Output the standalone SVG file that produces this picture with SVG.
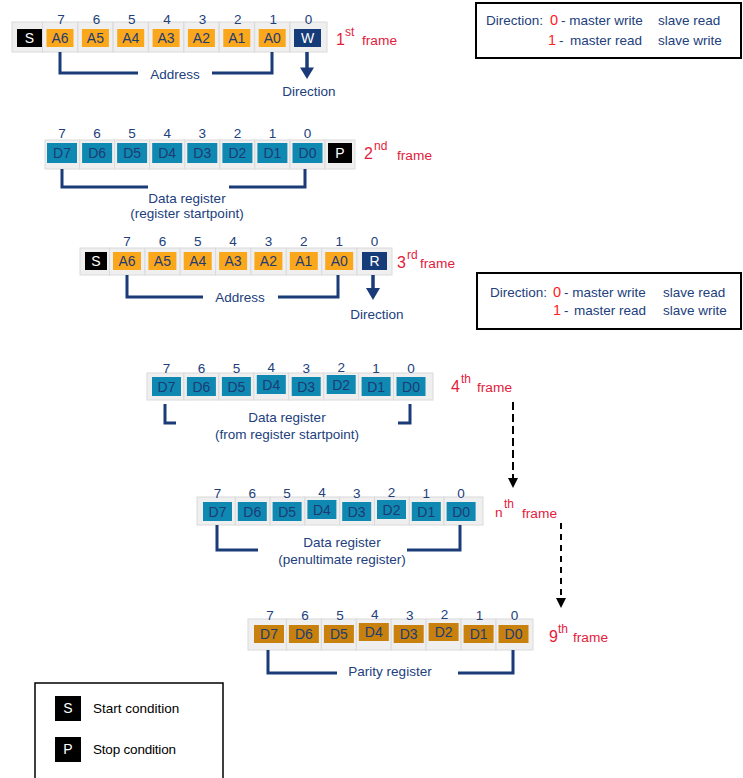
<svg xmlns="http://www.w3.org/2000/svg" width="743" height="778" viewBox="0 0 743 778">
<style>
text{font-family:"Liberation Sans",Arial,sans-serif;font-size:13.5px}
.cell{fill:#efefef;stroke:#dadada;stroke-width:1}
.a{fill:#fba71b}
.d{fill:#0f88b2}
.g{fill:#c8810c}
.k{fill:#000}
.n{fill:#153b78}
.bt{text-anchor:middle;fill:#1d3b73;font-size:14px}
.wt{text-anchor:middle;fill:#fff;font-size:14px}
.dg{text-anchor:middle;fill:#21407c;font-size:13.5px}
.lbl{fill:#21407c}
.mid{text-anchor:middle}
.red{fill:#e31b3c;font-size:16px}
.fr{fill:#e31b3c;font-size:13.7px}
.sup{fill:#e31b3c;font-size:12px}
.rr{fill:#ff2020;font-size:14.5px}
.br{fill:none;stroke:#1b3b78;stroke-width:3}
.dir{fill:none;stroke:#1b3b78;stroke-width:3.5}
.dash{fill:none;stroke:#000;stroke-width:2}
.box{fill:#fff;stroke:#000;stroke-width:2}
</style>

<g id="frame1">
  <rect class="cell" x="12" y="22" width="31" height="30"/>
  <rect class="cell" x="42.5" y="22" width="35" height="30"/>
  <rect class="cell" x="77.9" y="22" width="35" height="30"/>
  <rect class="cell" x="113.2" y="22" width="35" height="30"/>
  <rect class="cell" x="148.6" y="22" width="35" height="30"/>
  <rect class="cell" x="183.9" y="22" width="35" height="30"/>
  <rect class="cell" x="219.3" y="22" width="35" height="30"/>
  <rect class="cell" x="254.7" y="22" width="35" height="30"/>
  <rect class="cell" x="290" y="22" width="37" height="30"/>
  <rect class="k" x="17" y="29" width="25" height="18"/>
  <rect class="a" x="46.5" y="29" width="27" height="18"/>
  <rect class="a" x="81.9" y="29" width="27" height="18"/>
  <rect class="a" x="117.2" y="29" width="27" height="18"/>
  <rect class="a" x="152.6" y="29" width="27" height="18"/>
  <rect class="a" x="187.9" y="29" width="27" height="18"/>
  <rect class="a" x="223.3" y="29" width="27" height="18"/>
  <rect class="a" x="258.7" y="29" width="27" height="18"/>
  <rect class="n" x="294" y="29" width="27" height="18"/>
  <text class="wt" x="29.5" y="43">S</text>
  <text class="bt" x="60" y="43">A6</text>
  <text class="bt" x="95.4" y="43">A5</text>
  <text class="bt" x="130.7" y="43">A4</text>
  <text class="bt" x="166.1" y="43">A3</text>
  <text class="bt" x="201.4" y="43">A2</text>
  <text class="bt" x="236.8" y="43">A1</text>
  <text class="bt" x="272.2" y="43">A0</text>
  <text class="wt" x="307.5" y="43">W</text>
  <text class="dg" x="61" y="24">7</text>
  <text class="dg" x="96.4" y="24">6</text>
  <text class="dg" x="131.7" y="24">5</text>
  <text class="dg" x="167.1" y="24">4</text>
  <text class="dg" x="202.4" y="24">3</text>
  <text class="dg" x="237.8" y="24">2</text>
  <text class="dg" x="273.2" y="24">1</text>
  <text class="dg" x="308.5" y="24">0</text>
  <text class="red" x="336" y="45">1</text>
  <text class="sup" x="345" y="36">st</text>
  <text class="fr" x="362" y="45">frame</text>
  <text class="lbl mid" x="175" y="79">Address</text>
  <text class="lbl mid" x="309" y="96">Direction</text>
</g>

<g id="direction-legend-1">
  <rect class="box" x="476" y="3" width="265" height="55"/>
  <text class="lbl" x="486" y="25">Direction:</text>
  <text class="rr" x="550" y="25">0</text>
  <text class="lbl" x="561" y="25">- master write</text>
  <text class="lbl" x="658" y="25">slave read</text>
  <text class="rr" x="548" y="45">1</text>
  <text class="lbl" x="559" y="45">-</text>
  <text class="lbl" x="570" y="45">master read</text>
  <text class="lbl" x="658" y="45">slave write</text>
</g>

<g id="frame2">
  <rect class="cell" x="45" y="140" width="34.6" height="29"/>
  <rect class="cell" x="79.6" y="140" width="35" height="29"/>
  <rect class="cell" x="114.6" y="140" width="35" height="29"/>
  <rect class="cell" x="149.7" y="140" width="35" height="29"/>
  <rect class="cell" x="184.8" y="140" width="35" height="29"/>
  <rect class="cell" x="219.9" y="140" width="35" height="29"/>
  <rect class="cell" x="254.9" y="140" width="35" height="29"/>
  <rect class="cell" x="290" y="140" width="35" height="29"/>
  <rect class="cell" x="325" y="140" width="30" height="29"/>
  <rect class="d" x="47" y="143" width="30" height="20"/>
  <rect class="d" x="82.1" y="143" width="30" height="20"/>
  <rect class="d" x="117.1" y="143" width="30" height="20"/>
  <rect class="d" x="152.2" y="143" width="30" height="20"/>
  <rect class="d" x="187.3" y="143" width="30" height="20"/>
  <rect class="d" x="222.4" y="143" width="30" height="20"/>
  <rect class="d" x="257.4" y="143" width="30" height="20"/>
  <rect class="d" x="292.5" y="143" width="30" height="20"/>
  <rect class="k" x="328" y="143" width="24" height="20"/>
  <text class="bt" x="62" y="158">D7</text>
  <text class="bt" x="97.1" y="158">D6</text>
  <text class="bt" x="132.1" y="158">D5</text>
  <text class="bt" x="167.2" y="158">D4</text>
  <text class="bt" x="202.3" y="158">D3</text>
  <text class="bt" x="237.4" y="158">D2</text>
  <text class="bt" x="272.4" y="158">D1</text>
  <text class="bt" x="307.5" y="158">D0</text>
  <text class="wt" x="340" y="158">P</text>
  <text class="dg" x="62" y="138">7</text>
  <text class="dg" x="97.1" y="138">6</text>
  <text class="dg" x="132.1" y="138">5</text>
  <text class="dg" x="167.2" y="138">4</text>
  <text class="dg" x="202.3" y="138">3</text>
  <text class="dg" x="237.4" y="138">2</text>
  <text class="dg" x="272.4" y="138">1</text>
  <text class="dg" x="307.5" y="138">0</text>
  <text class="red" x="364" y="159">2</text>
  <text class="sup" x="374" y="150">nd</text>
  <text class="fr" x="397" y="160">frame</text>
  <text class="lbl mid" x="187" y="203">Data register</text>
  <text class="lbl mid" x="187" y="218">(register startpoint)</text>
</g>

<g id="frame3">
  <rect class="cell" x="80" y="248" width="30" height="27"/>
  <rect class="cell" x="109.5" y="248" width="35.4" height="27"/>
  <rect class="cell" x="144.9" y="248" width="35.3" height="27"/>
  <rect class="cell" x="180.2" y="248" width="35.4" height="27"/>
  <rect class="cell" x="215.6" y="248" width="35.3" height="27"/>
  <rect class="cell" x="250.9" y="248" width="35.4" height="27"/>
  <rect class="cell" x="286.3" y="248" width="35.4" height="27"/>
  <rect class="cell" x="321.7" y="248" width="35.3" height="27"/>
  <rect class="cell" x="357" y="248" width="35" height="27"/>
  <rect class="k" x="85" y="252" width="22" height="18"/>
  <rect class="a" x="113" y="252" width="28" height="18"/>
  <rect class="a" x="148.4" y="252" width="28" height="18"/>
  <rect class="a" x="183.7" y="252" width="28" height="18"/>
  <rect class="a" x="219.1" y="252" width="28" height="18"/>
  <rect class="a" x="254.4" y="252" width="28" height="18"/>
  <rect class="a" x="289.8" y="252" width="28" height="18"/>
  <rect class="a" x="325.2" y="252" width="28" height="18"/>
  <rect class="n" x="362" y="252" width="25" height="18"/>
  <text class="wt" x="96" y="266">S</text>
  <text class="bt" x="127" y="266">A6</text>
  <text class="bt" x="162.4" y="266">A5</text>
  <text class="bt" x="197.7" y="266">A4</text>
  <text class="bt" x="233.1" y="266">A3</text>
  <text class="bt" x="268.4" y="266">A2</text>
  <text class="bt" x="303.8" y="266">A1</text>
  <text class="bt" x="339.2" y="266">A0</text>
  <text class="wt" x="374.5" y="266">R</text>
  <text class="dg" x="127" y="246">7</text>
  <text class="dg" x="162.4" y="246">6</text>
  <text class="dg" x="197.7" y="246">5</text>
  <text class="dg" x="233.1" y="246">4</text>
  <text class="dg" x="268.4" y="246">3</text>
  <text class="dg" x="303.8" y="246">2</text>
  <text class="dg" x="339.2" y="246">1</text>
  <text class="dg" x="374.5" y="246">0</text>
  <text class="red" x="397" y="268">3</text>
  <text class="sup" x="407" y="259">rd</text>
  <text class="fr" x="420" y="268">frame</text>
  <text class="lbl mid" x="240" y="302">Address</text>
  <text class="lbl mid" x="377" y="319">Direction</text>
</g>

<g id="direction-legend-2">
  <rect class="box" x="477" y="273" width="264" height="56"/>
  <text class="lbl" x="490" y="297">Direction:</text>
  <text class="rr" x="553" y="297">0</text>
  <text class="lbl" x="564" y="297">- master write</text>
  <text class="lbl" x="663" y="297">slave read</text>
  <text class="rr" x="553" y="315">1</text>
  <text class="lbl" x="564" y="315">-</text>
  <text class="lbl" x="574" y="315">master read</text>
  <text class="lbl" x="663" y="315">slave write</text>
</g>

<g id="frame4">
  <rect class="cell" x="147" y="373" width="36.9" height="27"/>
  <rect class="cell" x="183.9" y="373" width="35" height="27"/>
  <rect class="cell" x="218.9" y="373" width="34.9" height="27"/>
  <rect class="cell" x="253.8" y="373" width="34.9" height="27"/>
  <rect class="cell" x="288.7" y="373" width="35" height="27"/>
  <rect class="cell" x="323.7" y="373" width="34.9" height="27"/>
  <rect class="cell" x="358.6" y="373" width="34.9" height="27"/>
  <rect class="cell" x="393.5" y="373" width="39.5" height="27"/>
  <rect class="d" x="152" y="377" width="29" height="19"/>
  <rect class="d" x="186.9" y="377" width="29" height="19"/>
  <rect class="d" x="221.9" y="377" width="29" height="19"/>
  <rect class="d" x="256.8" y="375" width="29" height="19"/>
  <rect class="d" x="291.7" y="377" width="29" height="19"/>
  <rect class="d" x="326.7" y="375" width="29" height="19"/>
  <rect class="d" x="361.6" y="377" width="29" height="19"/>
  <rect class="d" x="396.5" y="377" width="29" height="19"/>
  <text class="bt" x="166.5" y="391.5">D7</text>
  <text class="bt" x="201.4" y="391.5">D6</text>
  <text class="bt" x="236.4" y="391.5">D5</text>
  <text class="bt" x="271.3" y="389.5">D4</text>
  <text class="bt" x="306.2" y="391.5">D3</text>
  <text class="bt" x="341.2" y="389.5">D2</text>
  <text class="bt" x="376.1" y="391.5">D1</text>
  <text class="bt" x="411" y="391.5">D0</text>
  <text class="dg" x="166.5" y="373">7</text>
  <text class="dg" x="201.4" y="373">6</text>
  <text class="dg" x="236.4" y="373">5</text>
  <text class="dg" x="271.3" y="372">4</text>
  <text class="dg" x="306.2" y="373">3</text>
  <text class="dg" x="341.2" y="372">2</text>
  <text class="dg" x="376.1" y="373">1</text>
  <text class="dg" x="411" y="373">0</text>
  <text class="red" x="451" y="392">4</text>
  <text class="sup" x="461" y="383">th</text>
  <text class="fr" x="477" y="392">frame</text>
  <text class="lbl mid" x="287" y="422">Data register</text>
  <text class="lbl mid" x="287" y="439">(from register  startpoint)</text>
</g>

<g id="frameN">
  <rect class="cell" x="197" y="497" width="38.3" height="28"/>
  <rect class="cell" x="235.3" y="497" width="34.8" height="28"/>
  <rect class="cell" x="270.1" y="497" width="34.8" height="28"/>
  <rect class="cell" x="304.9" y="497" width="34.8" height="28"/>
  <rect class="cell" x="339.7" y="497" width="34.8" height="28"/>
  <rect class="cell" x="374.5" y="497" width="34.8" height="28"/>
  <rect class="cell" x="409.3" y="497" width="34.8" height="28"/>
  <rect class="cell" x="444.1" y="497" width="38.9" height="28"/>
  <rect class="d" x="203" y="502" width="29" height="19"/>
  <rect class="d" x="237.8" y="502" width="29" height="19"/>
  <rect class="d" x="272.6" y="502" width="29" height="19"/>
  <rect class="d" x="307.4" y="500" width="29" height="19"/>
  <rect class="d" x="342.2" y="502" width="29" height="19"/>
  <rect class="d" x="377" y="500" width="29" height="19"/>
  <rect class="d" x="411.8" y="502" width="29" height="19"/>
  <rect class="d" x="446.6" y="502" width="29" height="19"/>
  <text class="bt" x="217.5" y="516.5">D7</text>
  <text class="bt" x="252.3" y="516.5">D6</text>
  <text class="bt" x="287.1" y="516.5">D5</text>
  <text class="bt" x="321.9" y="514.5">D4</text>
  <text class="bt" x="356.7" y="516.5">D3</text>
  <text class="bt" x="391.5" y="514.5">D2</text>
  <text class="bt" x="426.3" y="516.5">D1</text>
  <text class="bt" x="461.1" y="516.5">D0</text>
  <text class="dg" x="217.5" y="498">7</text>
  <text class="dg" x="252.3" y="498">6</text>
  <text class="dg" x="287.1" y="498">5</text>
  <text class="dg" x="321.9" y="497">4</text>
  <text class="dg" x="356.7" y="498">3</text>
  <text class="dg" x="391.5" y="497">2</text>
  <text class="dg" x="426.3" y="498">1</text>
  <text class="dg" x="461.1" y="498">0</text>
  <text class="fr" x="495" y="517">n</text>
  <text class="sup" x="504" y="508">th</text>
  <text class="fr" x="522" y="518">frame</text>
  <text class="lbl mid" x="342" y="547">Data register</text>
  <text class="lbl mid" x="342" y="564">(penultimate register)</text>
</g>

<g id="frame9">
  <rect class="cell" x="248" y="619" width="38.5" height="31"/>
  <rect class="cell" x="286.4" y="619" width="35" height="31"/>
  <rect class="cell" x="321.4" y="619" width="34.9" height="31"/>
  <rect class="cell" x="356.3" y="619" width="34.9" height="31"/>
  <rect class="cell" x="391.2" y="619" width="34.9" height="31"/>
  <rect class="cell" x="426.1" y="619" width="35" height="31"/>
  <rect class="cell" x="461.1" y="619" width="34.9" height="31"/>
  <rect class="cell" x="496" y="619" width="37" height="31"/>
  <rect class="g" x="254" y="625" width="30" height="18"/>
  <rect class="g" x="288.9" y="625" width="30" height="18"/>
  <rect class="g" x="323.9" y="625" width="30" height="18"/>
  <rect class="g" x="358.8" y="623" width="30" height="18"/>
  <rect class="g" x="393.7" y="625" width="30" height="18"/>
  <rect class="g" x="428.6" y="623" width="30" height="18"/>
  <rect class="g" x="463.6" y="625" width="30" height="18"/>
  <rect class="g" x="498.5" y="625" width="30" height="18"/>
  <text class="bt" x="269" y="639">D7</text>
  <text class="bt" x="303.9" y="639">D6</text>
  <text class="bt" x="338.9" y="639">D5</text>
  <text class="bt" x="373.8" y="637">D4</text>
  <text class="bt" x="408.7" y="639">D3</text>
  <text class="bt" x="443.6" y="637">D2</text>
  <text class="bt" x="478.6" y="639">D1</text>
  <text class="bt" x="513.5" y="639">D0</text>
  <text class="dg" x="270" y="620">7</text>
  <text class="dg" x="304.9" y="620">6</text>
  <text class="dg" x="339.9" y="620">5</text>
  <text class="dg" x="374.8" y="619">4</text>
  <text class="dg" x="409.7" y="620">3</text>
  <text class="dg" x="444.6" y="619">2</text>
  <text class="dg" x="479.6" y="620">1</text>
  <text class="dg" x="514.5" y="620">0</text>
  <text class="red" x="549" y="642">9</text>
  <text class="sup" x="558" y="633">th</text>
  <text class="fr" x="573" y="642">frame</text>
  <text class="lbl mid" x="390" y="676">Parity register</text>
</g>

<g id="legend">
  <rect x="35" y="683" width="188" height="100" fill="#fff" stroke="#000" stroke-width="1.5"/>
  <rect class="k" x="55" y="696" width="26" height="25"/>
  <text class="wt" x="68" y="713">S</text>
  <text x="93" y="713" fill="#000" style="font-size:13.5px">Start condition</text>
  <rect class="k" x="55" y="737" width="26" height="25"/>
  <text class="wt" x="68" y="754">P</text>
  <text x="93" y="754" fill="#000" style="font-size:13.5px;letter-spacing:-0.2px">Stop condition</text>
</g>

<g id="connectors">
  <path class="br" d="M60,52 V73 H138 M212,73 H272 V52"/>
  <path class="dir" d="M307,52 V69"/>
  <polygon points="300,67.5 314,67.5 307,79" fill="#1b3b78"/>
  <path class="br" d="M62,169 V187 H148 M229,187 H305 V169"/>
  <path class="br" d="M127,275 V297 H203 M278,297 H338 V275"/>
  <path class="dir" d="M373,275 V290"/>
  <polygon points="366,288 380,288 373,300" fill="#1b3b78"/>
  <path class="br" d="M165,404 V423 H176 M398,423 H410 V404"/>
  <path class="br" d="M217,525 V550 H258 M407,550 H460 V525"/>
  <path class="br" d="M268,650 V673 H337 M458,673 H513 V650"/>
  <path class="dash" d="M513,402 V478" stroke-dasharray="8,4"/>
  <polygon points="508,478 518,478 513,488" fill="#000"/>
  <path class="dash" d="M561,523 V598" stroke-width="1.5" stroke-dasharray="6,5"/>
  <polygon points="556,598 566,598 561,608" fill="#000"/>
</g>
</svg>
